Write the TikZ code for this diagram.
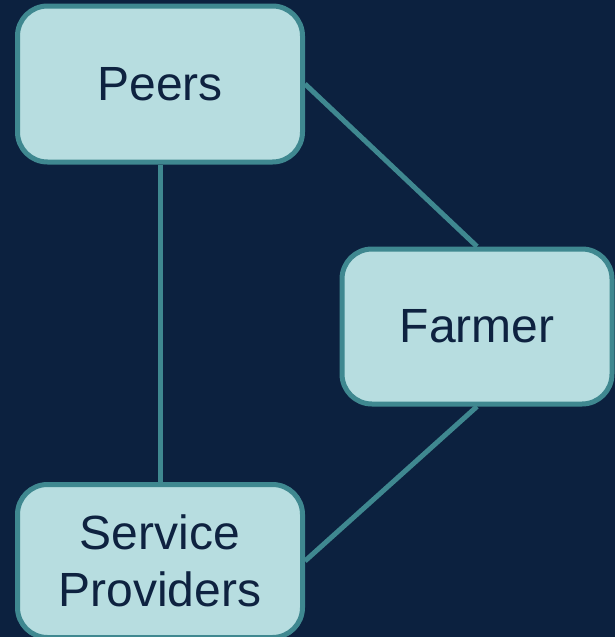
\documentclass[tikz,border=0pt]{standalone}
\usepackage{fontspec}
\setmainfont{Liberation Sans}
\definecolor{bg}{HTML}{0C213F}
\definecolor{boxfill}{HTML}{B7DDE0}
\definecolor{boxline}{HTML}{3F8890}
\definecolor{txt}{HTML}{0E2240}
\begin{document}
\begin{tikzpicture}[x=1pt,y=-1pt,
  box/.style={rectangle, rounded corners=30pt, draw=boxline, fill=boxfill, line width=5pt,
    inner sep=0pt, align=center, text=txt, font=\fontsize{48}{57}\selectfont},
  link/.style={draw=boxline, line width=5pt}]
\fill[bg] (0,0) rectangle (615,637);
\useasboundingbox (0,0) rectangle (615,637);
\node[box, minimum width=285pt, minimum height=156pt] (peers) at (160,84) {Peers};
\node[box, minimum width=270pt, minimum height=155pt] (farmer) at (477,326.5) {Farmer};
\node[box, minimum width=285pt, minimum height=153pt] (sp) at (160,561) {Service\\Providers};
\draw[link] (peers.south) -- (sp.north);
\draw[link] (peers.east) -- (farmer.north);
\draw[link] (farmer.south) -- (sp.east);
\end{tikzpicture}
\end{document}
